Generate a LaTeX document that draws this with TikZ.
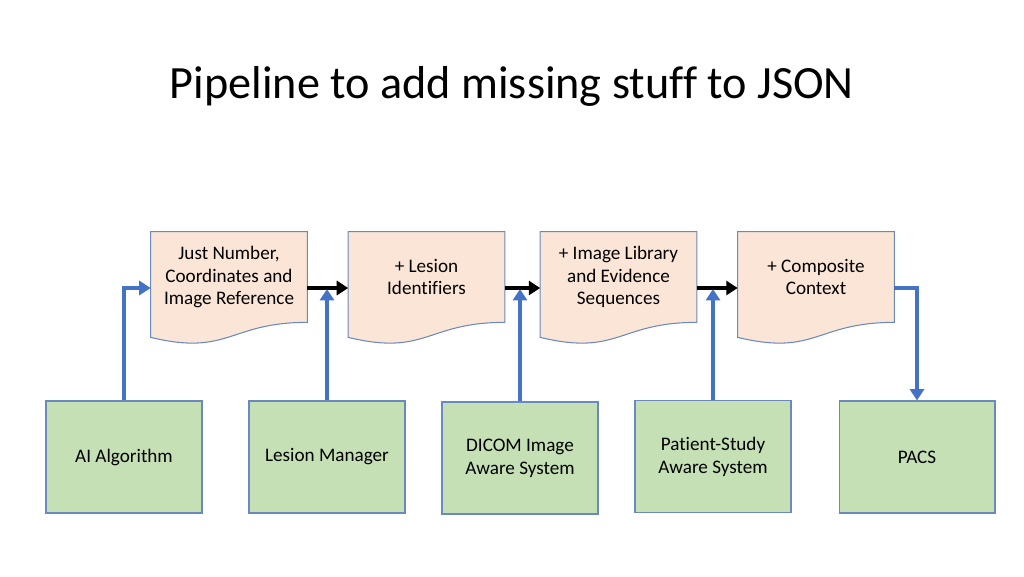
\documentclass[tikz,border=0pt]{standalone}
\usepackage{fontspec}
\setmainfont{Carlito}[Ligatures=NoCommon]
\usepackage{tikz}
\usetikzlibrary{arrows.meta,backgrounds,calc}
\definecolor{peach}{HTML}{FBE5D6}
\definecolor{leaf}{HTML}{C5E0B4}
\definecolor{edge}{HTML}{6A89BE}
\definecolor{feed}{HTML}{4472C4}
\tikzstyle{doc}=[minimum width=3.12cm,minimum height=1.8cm,inner sep=0pt,% outline drawn later
align=center,font=\fontsize{10.9}{13}\selectfont]
\tikzstyle{docline}=[draw=edge,fill=peach,line width=0.6pt]
\tikzstyle{sys}=[draw=edge,fill=leaf,line width=0.6pt,minimum width=3.12cm,minimum height=2.24cm,
inner sep=0pt,align=center,font=\fontsize{10.9}{13}\selectfont]
\tikzstyle{pipe}=[-{Triangle[length=6.5pt,width=8pt]}, line width=2pt, black]
\tikzstyle{feedarr}=[-{Triangle[length=6.5pt,width=8pt]}, line width=2.3pt, feed]

\begin{document}
\begin{tikzpicture}[x=0.02cm,y=-0.02cm]
\useasboundingbox (0,0) rectangle (1024,576);
\node[font=\fontsize{26.3}{32}\selectfont] (title) at (512,86) {Pipeline to add missing stuff to JSON};
\node[doc] (d1) at (229,277) {Just Number,\\Coordinates and\\Image Reference};
\node[doc] (d2) at (426.5,277) {+ Lesion\\Identifiers};
\node[doc] (d3) at (618.5,277) {+ Image Library\\and Evidence\\Sequences};
\node[doc] (d4) at (816,277) {+ Composite\\Context};
\begin{scope}[on background layer]
\foreach \d in {d1,d2,d3,d4}
  \draw[docline] (\d.north west) -- (\d.north east) -- (\d.south east)
    .. controls (\d.south) and ($(\d.south)+(0,34)$) .. ($(\d.south west)+(0,15)$) -- cycle;
\end{scope}
\node[sys] (g1) at (124,457) {AI Algorithm};
\node[sys] (g2) at (327,457) {Lesion Manager};
\node[sys] (g3) at (520,458) {DICOM Image\\Aware System};
\node[sys] (g4) at (713,456.5) {Patient-Study\\Aware System};
\node[sys] (g5) at (917,457) {PACS};
\draw[pipe] ($(d1.east)+(0,11)$) -- ($(d2.west)+(0,11)$);
\draw[pipe] ($(d2.east)+(0,11)$) -- ($(d3.west)+(0,11)$);
\draw[pipe] ($(d3.east)+(0,11)$) -- ($(d4.west)+(0,11)$);
\draw[feedarr] (g1.north) |- ($(d1.west)+(0,11)$);
\draw[feedarr] (g2.north) -- ($(g2.north |- d1.east)+(0,12)$);
\draw[feedarr] (g3.north) -- ($(g3.north |- d2.east)+(0,12)$);
\draw[feedarr] (g4.north) -- ($(g4.north |- d3.east)+(0,12)$);
\draw[feedarr] ($(d4.east)+(0,11)$) -| (g5.north);
\end{tikzpicture}
\end{document}
